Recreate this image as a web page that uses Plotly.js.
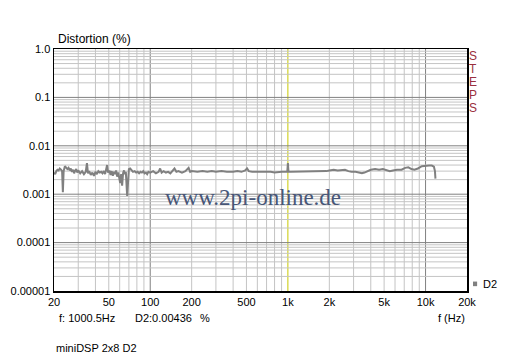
<!DOCTYPE html>
<html><head><meta charset="utf-8">
<script src="https://cdn.plot.ly/plotly-3.0.1.min.js"></script>
<style>html,body{margin:0;padding:0;background:#fff;}#chart{width:512px;height:358px;}</style>
</head><body><div id="chart"></div>
<script>
const freqHz = [20,20.4,20.8,21.2,21.6,22.0,22.5,22.9,23.2,23.5,24.0,24.5,25.0,25.5,26.0,26.5,27.0,27.5,28.0,28.5,29.0,29.5,30.0,31.0,32.0,33.0,34.0,34.7,35.3,36.0,37.0,38.0,39.0,40.0,41.0,42.0,43.0,44.0,45.0,46.0,47.0,48.0,48.6,49.4,50.5,51.5,52.5,53.5,54.5,55.5,56.5,57.5,58.5,59.5,60.5,61.5,62.5,63.5,64.5,65.5,66.5,68.0,69.0,70.0,71.5,73.0,75.0,77.0,79.0,81.0,83.0,85.0,87.0,89.0,91.0,93.0,95.0,97.0,100,
105,110,115,118,121,125,130,135,140,145,150,155,160,170,180,190,195,200,220,240,260,280,300,330,360,400,430,460,490,505,520,550,600,650,700,750,800,850,900,950,990,1000,1010,1050,
1100,1200,1300,1400,1500,1600,1700,1800,1900,2000,2150,2300,2450,2600,2750,2900,3100,3300,3450,3600,3800,4000,4300,4600,4900,5200,5500,5800,6200,6700,7100,7500,7900,8300,8800,9400,10000,10600,11100,11500,11700,11800];
const distD2 = [0.0028,0.0026,0.0030,0.0032,0.0031,0.0034,0.0032,0.0030,0.0011,0.0030,0.0038,0.0036,0.0033,0.0035,0.0031,0.0034,0.0029,0.0032,0.0027,0.0031,0.0033,0.0028,0.0031,0.0027,0.0030,0.0026,0.0029,0.0044,0.0027,0.0030,0.0025,0.0028,0.0024,0.0029,0.0026,0.0030,0.0028,0.0029,0.0027,0.0030,0.0026,0.0034,0.0040,0.0028,0.0031,0.0025,0.0030,0.0024,0.0029,0.0026,0.0031,0.0023,0.0028,0.0022,0.0017,0.0026,0.0015,0.0027,0.0031,0.0026,0.0029,0.00092,0.0027,0.0033,0.0034,0.0031,0.0029,0.0030,0.0028,0.0029,0.0027,0.0029,0.0028,0.0030,0.0027,0.0028,0.0026,0.0029,0.0028,
0.0030,0.0027,0.0029,0.0034,0.0028,0.0030,0.0028,0.0029,0.0027,0.0030,0.0034,0.0029,0.0030,0.0028,0.0030,0.0035,0.0029,0.0030,0.0029,0.0030,0.0029,0.0030,0.0029,0.0030,0.0029,0.0029,0.0030,0.0029,0.0031,0.0034,0.0030,0.0029,0.0029,0.0030,0.0029,0.0029,0.0028,0.0029,0.0029,0.0029,0.0029,0.0044,0.0029,0.0029,
0.0029,0.0029,0.0030,0.0029,0.0030,0.0029,0.0030,0.0029,0.0030,0.0031,0.0032,0.0031,0.0032,0.0032,0.0030,0.0029,0.0029,0.0028,0.0027,0.0028,0.0030,0.0032,0.0033,0.0032,0.0033,0.0031,0.0030,0.0031,0.0032,0.0032,0.0035,0.0036,0.0033,0.0032,0.0034,0.0038,0.0039,0.0039,0.0039,0.0037,0.0030,0.0021];

const xTickVals = [20,50,100,200,500,1000,2000,5000,10000,20000];
const xTickText = ["20","50","100","200","500","1k","2k","5k","10k","20k"];
const yTickVals = [0.00001,0.0001,0.001,0.01,0.1,1];
const yTickText = ["0.00001","0.0001","0.001","0.01","0.1","1.0"];
const stepsLetters = ["S","T","E","P","S"];

const FONT = "Liberation Sans, Arial, sans-serif";
const shapes = [];
const xDecades = [10,100,1000,10000];
xDecades.forEach(d => {
  for (let m = 1; m <= 9; m++) {
    const v = m * d;
    if (v <= 20 || v >= 20000) continue;
    let col = m === 1 ? "#808080" : "#c4c4c4";
    if (v === 1000) col = "#c8c800";
    shapes.push({type:"line", xref:"x", yref:"paper", x0:v, x1:v, y0:0, y1:1, layer:"below", line:{color:col, width:1}});
  }
});
const yDecades = [0.00001,0.0001,0.001,0.01,0.1];
yDecades.forEach(d => {
  for (let m = 1; m <= 9; m++) {
    const v = m * d;
    if (m === 1 && d === 0.00001) continue;
    const col = m === 1 ? "#808080" : "#c4c4c4";
    shapes.push({type:"line", xref:"paper", yref:"y", x0:0, x1:1, y0:v, y1:v, layer:"below", line:{color:col, width:1}});
  }
});
// legend swatch
shapes.push({type:"rect", xref:"paper", yref:"paper", x0:1.0145, x1:1.0245, y0:0.02, y1:0.039, fillcolor:"#808080", line:{width:0}});

const annotations = [
  {text:"Distortion (%)", xref:"paper", yref:"paper", x:0.004, y:1.041, xanchor:"left", yanchor:"middle", showarrow:false, font:{family:FONT, size:12, color:"#000"}},
  {text:"www.2pi-online.de", xref:"paper", yref:"paper", x:0.482, y:0.388, xanchor:"center", yanchor:"middle", showarrow:false, font:{family:"Liberation Serif, Times New Roman, serif", size:23, color:"#475677"}},
  {text:"D2", xref:"paper", yref:"paper", x:1.034, y:0.029, xanchor:"left", yanchor:"middle", showarrow:false, font:{family:FONT, size:11, color:"#000"}},
  {text:"f: 1000.5Hz", xref:"paper", yref:"paper", x:0.007, y:-0.1116, xanchor:"left", yanchor:"middle", showarrow:false, font:{family:FONT, size:11, color:"#000"}},
  {text:"D2:0.00436", xref:"paper", yref:"paper", x:0.1913, y:-0.1116, xanchor:"left", yanchor:"middle", showarrow:false, font:{family:FONT, size:11, color:"#000"}},
  {text:"%", xref:"paper", yref:"paper", x:0.348, y:-0.1116, xanchor:"left", yanchor:"middle", showarrow:false, font:{family:FONT, size:11, color:"#000"}},
  {text:"f (Hz)", xref:"paper", yref:"paper", x:0.999, y:-0.1116, xanchor:"right", yanchor:"middle", showarrow:false, font:{family:FONT, size:11, color:"#000"}},
  {text:"miniDSP 2x8 D2", xref:"paper", yref:"paper", x:0.0, y:-0.234, xanchor:"left", yanchor:"middle", showarrow:false, font:{family:FONT, size:11, color:"#000"}}
];
stepsLetters.forEach((ch, i) => {
  annotations.push({text:ch, xref:"paper", yref:"paper", x:1.0145, y:(291 - (56 + 13*i)) / 242, xanchor:"center", yanchor:"middle", showarrow:false, font:{family:FONT, size:12, color:"#9a3040"}});
});

const trace = {x:freqHz, y:distD2, type:"scatter", mode:"lines", line:{color:"#808080", width:2}, showlegend:false, hoverinfo:"skip"};

const layout = {
  width:512, height:358,
  margin:{l:54, r:45, t:49, b:67, pad:0},
  paper_bgcolor:"#fff", plot_bgcolor:"#fff",
  showlegend:false,
  xaxis:{type:"log", range:[Math.log10(20), Math.log10(20000)], tickmode:"array", tickvals:xTickVals, ticktext:xTickText,
    showgrid:false, zeroline:false, showline:true, mirror:true, linecolor:"#000", linewidth:1.5, ticks:"", ticklen:0,
    tickfont:{family:FONT, size:11, color:"#000"}, fixedrange:true},
  yaxis:{type:"log", range:[-5, 0], tickmode:"array", tickvals:yTickVals, ticktext:yTickText,
    showgrid:false, zeroline:false, showline:true, mirror:true, linecolor:"#000", linewidth:1.5, ticks:"", ticklen:0,
    tickfont:{family:FONT, size:11, color:"#000"}, fixedrange:true},
  shapes:shapes,
  annotations:annotations
};
Plotly.newPlot("chart", [trace], layout, {staticPlot:true, displayModeBar:false});
</script></body></html>
